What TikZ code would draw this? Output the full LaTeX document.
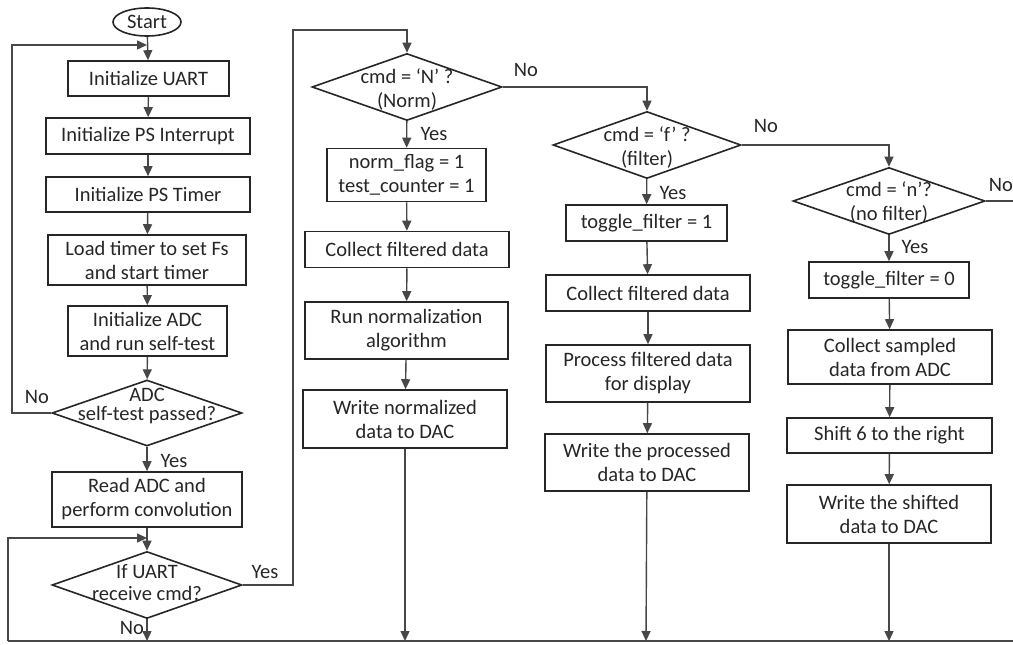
\documentclass[tikz,border=0pt]{standalone}
\usepackage{fontspec}
\setmainfont{Carlito}
\usetikzlibrary{shapes.geometric,arrows.meta}
\begin{document}
\begin{tikzpicture}[x=1pt,y=-1pt,
  font=\fontsize{20.5}{24}\selectfont,
  box/.style={draw=black!85,line width=1.6pt,inner sep=0pt,align=center,text=black!85},
  dia/.style={draw=black!85,line width=1.6pt,shape=diamond,inner sep=0pt},
  oval/.style={draw=black!85,line width=1.6pt,shape=ellipse,inner sep=0pt,text=black!85},
  txt/.style={align=center,inner sep=0pt,text=black!85},
  lab/.style={inner sep=0pt,text=black!85},
  conn/.style={draw=black!72,line width=1.4pt},
  arr/.style={conn,-{Triangle[length=10pt,width=9pt]}},
]
\useasboundingbox (0,0) rectangle (1013,645);

% ---------- column 1 ----------
\node[oval,minimum width=68pt,minimum height=28pt] (start) at (147,22) {Start};
\node[box,minimum width=161pt,minimum height=35pt] (uart) at (148.5,78.5) {Initialize UART};
\node[box,minimum width=204pt,minimum height=36pt] (psint) at (148,136) {Initialize PS Interrupt};
\node[box,minimum width=204pt,minimum height=35pt] (pstim) at (148,194.5) {Initialize PS Timer};
\node[box,minimum width=198pt,minimum height=50pt] (load) at (147,260) {Load timer to set Fs\\and start timer};
\node[box,minimum width=159pt,minimum height=50pt] (adc) at (147.5,331) {Initialize ADC\\and run self-test};
\node[dia,minimum width=190pt,minimum height=66pt] (adcq) at (147,413) {};
\node[txt,font=\fontsize{20.5}{19.5}\selectfont] at (147,406) {ADC\\self-test passed?};
\node[box,minimum width=190pt,minimum height=55pt] (read) at (147,499.5) {Read ADC and\\perform convolution};
\node[dia,minimum width=190pt,minimum height=67pt] (uartq) at (147,585) {};
\node[txt,font=\fontsize{20.5}{21.5}\selectfont] at (147,582.5) {If UART\\receive cmd?};

\coordinate (j1) at (147,45);
\coordinate (j2) at (147,538);
\coordinate (b0) at (8,641);
\coordinate (b1) at (147,641);
\coordinate (bend) at (1013,641);

\draw[arr] (start) -- (uart);
\draw[arr] (uart) -- (psint);
\draw[arr] (psint) -- (pstim);
\draw[arr] (pstim) -- (load);
\draw[arr] (load) -- (adc);
\draw[arr] (adc) -- (adcq);
\draw[arr] (adcq.west) -- (12,413) -- (12,45) -- (j1);
\draw[arr] (adcq) -- (read);
\draw[arr] (read) -- (uartq);
\draw[arr] (b0) -- (8,538) -- (j2);
\draw[arr] (uartq) -- (b1);
\draw[conn] (b0) -- (bend);

\node[lab] at (37,397) {No};
\node[lab] at (174,461) {Yes};
\node[lab] at (265,572) {Yes};
\node[lab] at (132,628) {No};

% ---------- column 2 ----------
\node[dia,minimum width=190pt,minimum height=67pt] (nq) at (407,87) {};
\node[txt] at (407,90) {cmd = ‘N’ ?\\(Norm)};
\node[box,minimum width=159pt,minimum height=53pt] (norm) at (406.5,175) {norm\_flag = 1\\test\_counter = 1};
\node[box,minimum width=204pt,minimum height=36pt] (coll1) at (407,249.5) {Collect filtered data};
\node[box,minimum width=203pt,minimum height=57pt] (run) at (406.5,330.5) {Run normalization\\algorithm};
\node[box,minimum width=204pt,minimum height=58pt] (wnorm) at (405,419) {Write normalized\\data to DAC};
\coordinate (b2) at (405,641);

\draw[arr] (uartq.east) -- (293,585) -- (293,30) -- (407,30) -- (nq.north);
\draw[arr] (nq) -- (norm);
\draw[arr] (norm) -- (coll1);
\draw[arr] (coll1) -- (run);
\draw[arr] (run) -- (wnorm);
\draw[arr] (wnorm) -- (b2);
\node[lab] at (526,70) {No};
\node[lab] at (434,134) {Yes};

% ---------- column 3 ----------
\node[dia,minimum width=188pt,minimum height=67pt] (fq) at (647,145) {};
\node[txt] at (647,147.5) {cmd = ‘f’ ?\\(filter)};
\node[box,minimum width=161pt,minimum height=36pt] (tog1) at (646.5,223) {toggle\_filter = 1};
\node[box,minimum width=204pt,minimum height=36pt] (coll2) at (648,293) {Collect filtered data};
\node[box,minimum width=204pt,minimum height=57pt] (proc) at (648,373.5) {Process filtered data\\for display};
\node[box,minimum width=204pt,minimum height=57pt] (wproc) at (647,462.5) {Write the processed\\data to DAC};
\coordinate (b3) at (646,641);

\draw[arr] (nq.east) -- (647,87) -- (fq.north);
\draw[arr] (fq) -- (tog1);
\draw[arr] (tog1) -- (coll2);
\draw[arr] (coll2) -- (proc);
\draw[arr] (proc) -- (wproc);
\draw[arr] (wproc) -- (b3);
\node[lab] at (766,126) {No};
\node[lab] at (673,193) {Yes};

% ---------- column 4 ----------
\node[dia,minimum width=192pt,minimum height=67pt] (nfq) at (889,201) {};
\node[txt] at (889,202.5) {cmd = ‘n’?\\(no filter)};
\node[box,minimum width=160pt,minimum height=36pt] (tog0) at (889,280) {toggle\_filter = 0};
\node[box,minimum width=204pt,minimum height=54pt] (colls) at (890,357) {Collect sampled\\data from ADC};
\node[box,minimum width=205pt,minimum height=35pt] (shift) at (889.5,435.5) {Shift 6 to the right};
\node[box,minimum width=204pt,minimum height=58pt] (wshift) at (889,514) {Write the shifted\\data to DAC};
\coordinate (b4) at (889,641);
\coordinate (nend) at (1013,201);

\draw[arr] (fq.east) -- (889,145) -- (nfq.north);
\draw[arr] (nfq) -- (tog0);
\draw[arr] (tog0) -- (colls);
\draw[arr] (colls) -- (shift);
\draw[arr] (shift) -- (wshift);
\draw[arr] (wshift) -- (b4);
\draw[conn] (nfq.east) -- (nend);
\node[lab] at (1001,185) {No};
\node[lab] at (915,247) {Yes};
\end{tikzpicture}
\end{document}
